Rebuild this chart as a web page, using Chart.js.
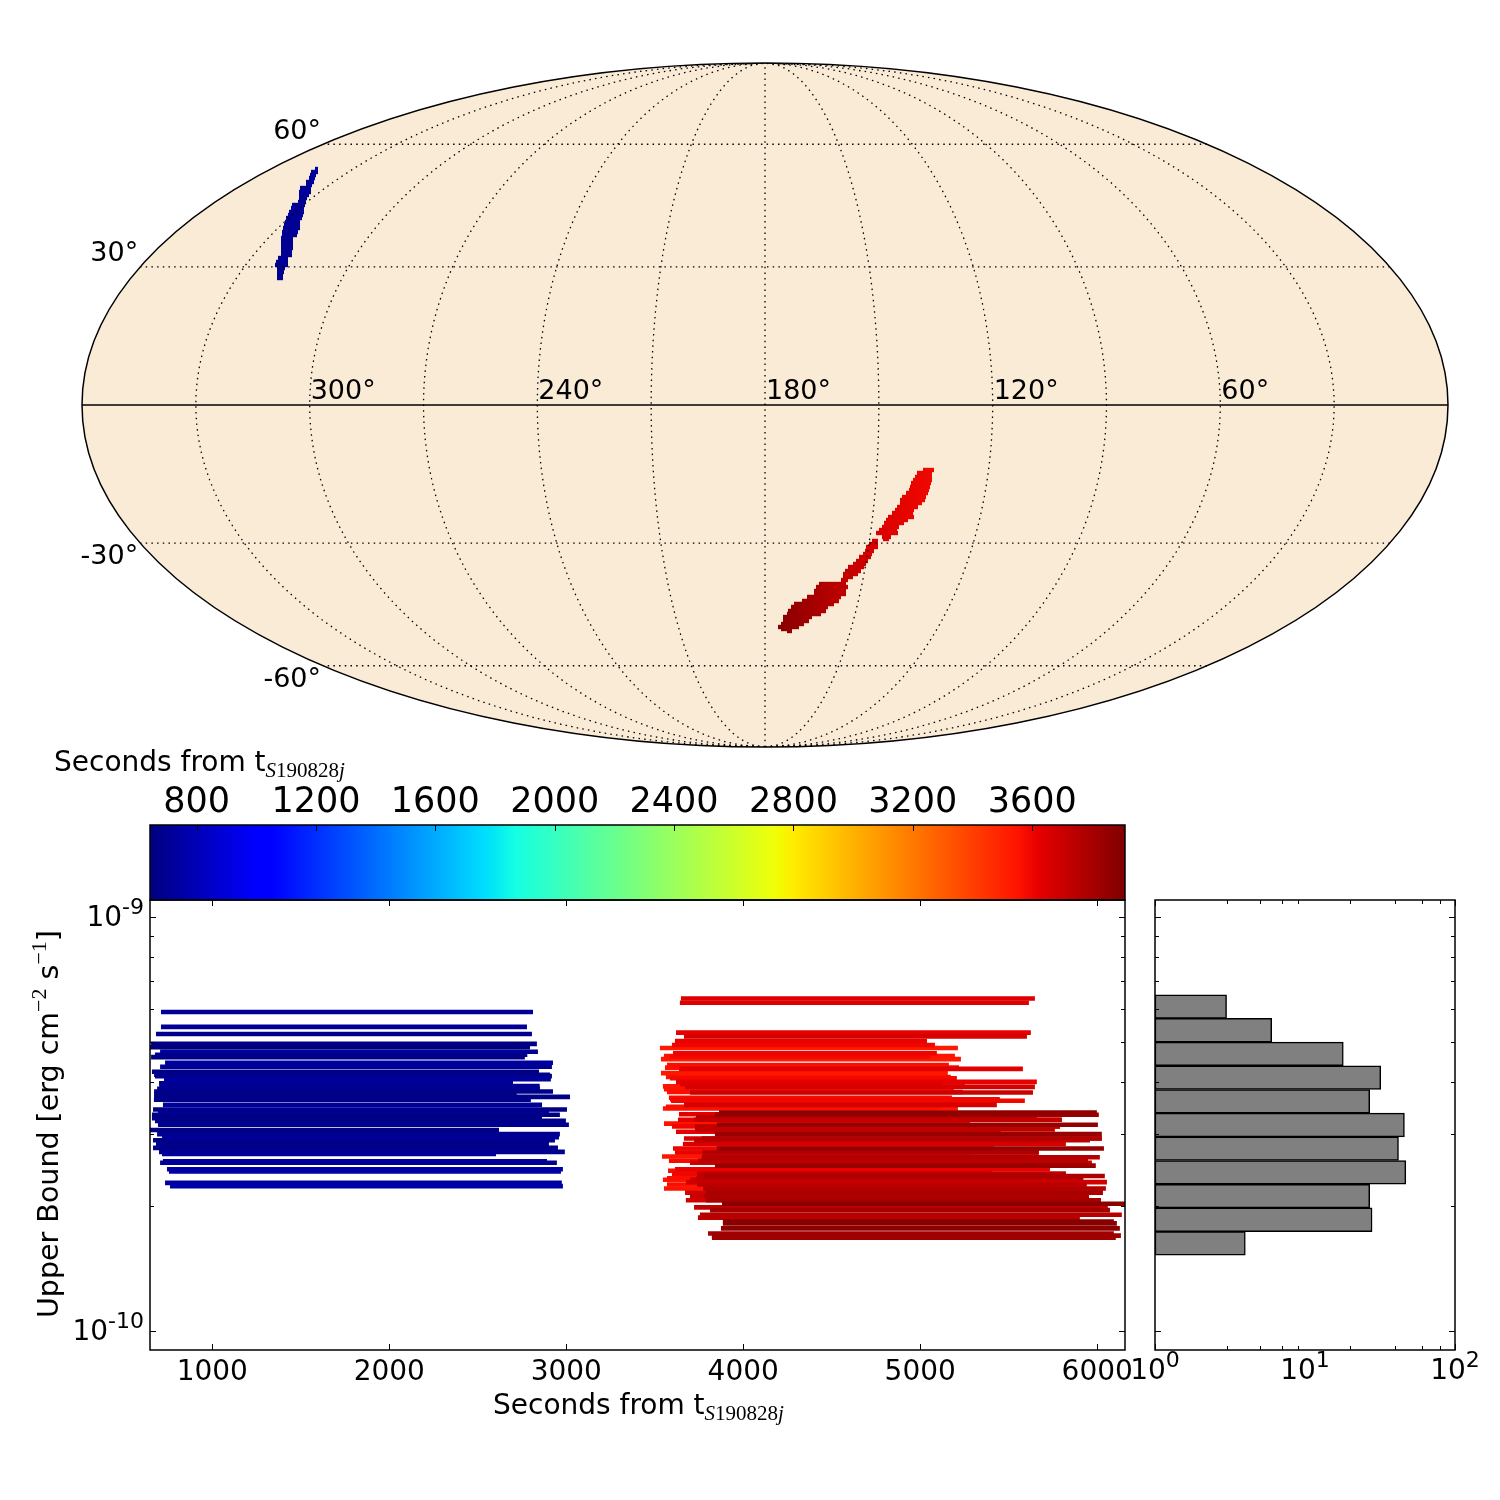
<!DOCTYPE html>
<html>
<head>
<meta charset="utf-8">
<title>S190828j upper bounds</title>
<script src="https://cdn.jsdelivr.net/npm/chart.js@4"></script>
<style>
html, body { margin: 0; padding: 0; background: #fff; }
canvas { position: absolute; left: 0; top: 0; }
</style>
</head>
<body>
<canvas id="mapChart" width="1500" height="1500"></canvas>
<canvas id="barChart" width="1500" height="1500"></canvas>
<canvas id="mainChart" width="1500" height="1500"></canvas>
<canvas id="histChart" width="1500" height="1500"></canvas>
<script>
// sky map, mollweide plane units
const lonGrid = [30, 60, 90, 120, 150, 180, 210, 240, 270, 300, 330];
const latGrid = [60, 30, -30, -60];
const lonLabels = [300, 240, 180, 120, 60];

const blueRowY = [236, 233, 230, 227, 223, 220, 217, 213, 210, 207, 203, 200, 197, 193, 190, 187, 183, 180, 177, 173, 170, 167, 163, 160, 157, 153, 150, 147, 143, 140, 137, 133, 130, 127];
const blueRowX0 = [-449, -453, -454, -455, -458, -458, -464, -465, -465, -465, -466, -472, -473, -475, -476, -478, -479, -480, -481, -482, -482, -483, -483, -483, -483, -483, -483, -486, -488, -489, -487, -487, -487, -487];
const blueRowX1 = [-448, -448, -450, -451, -452, -454, -455, -455, -457, -459, -460, -461, -462, -462, -463, -464, -466, -466, -466, -468, -469, -473, -473, -473, -473, -474, -474, -478, -478, -478, -481, -482, -483, -483];

const redRowY = [-65, -68, -72, -75, -78, -82, -85, -88, -92, -95, -98, -102, -105, -108, -112, -115, -118, -122, -125, -128, -132, -134, -136, -139, -142, -146, -149, -152, -156, -159, -162, -166, -169, -172, -175, -179, -182, -186, -189, -192, -196, -199, -202, -206, -209, -212, -216, -219, -222, -224, -226];
const redRowX0 = [159, 153, 151, 149, 147, 146, 145, 142, 138, 136, 136, 133, 131, 128, 124, 122, 120, 118, 115, 112, 118, 119, 108, 105, 102, 101, 99, 95, 92, 89, 84, 81, 79, 79, 77, 55, 52, 50, 50, 43, 38, 30, 27, 24, 23, 19, 19, 17, 14, 17, 23];
const redRowX1 = [168, 166, 166, 166, 165, 164, 163, 162, 160, 159, 156, 152, 148, 147, 148, 142, 138, 133, 131, 132, 125, 123, 112, 112, 112, 108, 106, 105, 102, 100, 98, 95, 92, 87, 82, 80, 82, 80, 80, 75, 73, 68, 62, 60, 55, 46, 43, 38, 33, 26, 26];

const blueStopX = [-489, -448];
const blueStopT = [690, 720];
const redStopX = [14, 50, 80, 112, 168];
const redStopT = [3890, 3800, 3730, 3660, 3590];

// light curve bars
const blueFlux = [5.90, 5.43, 5.22, 4.94, 4.85, 4.73, 4.65, 4.59, 4.45, 4.35, 4.23, 4.16, 4.13, 4.06, 3.97, 3.91, 3.85, 3.79, 3.73, 3.68, 3.62, 3.52, 3.43, 3.38, 3.33, 3.27, 3.22, 3.15, 3.06, 2.99, 2.94, 2.89, 2.83, 2.77, 2.71, 2.68, 2.57, 2.55, 2.46, 2.43, 2.28, 2.24];
const blueStart = [710, 710, 682, 654, 648, 705, 676, 654, 733, 705, 659, 671, 676, 727, 699, 700, 688, 671, 671, 671, 670, 721, 665, 693, 659, 659, 676, 693, 648, 688, 716, 665, 682, 665, 699, 716, 721, 705, 744, 755, 733, 761];
const blueEnd = [2812, 2778, 2806, 2834, 2795, 2840, 2780, 2766, 2925, 2919, 2846, 2908, 2919, 2913, 2699, 2850, 2851, 2925, 2720, 3021, 2800, 2863, 3004, 2902, 2964, 2863, 2998, 3015, 2620, 2964, 2959, 2936, 2902, 2953, 2992, 2603, 2891, 2947, 2981, 2970, 2975, 2981];

const redFlux = [6.36, 6.21, 5.26, 5.15, 5.02, 4.91, 4.83, 4.69, 4.62, 4.60, 4.54, 4.39, 4.33, 4.30, 4.20, 4.11, 4.08, 4.00, 3.95, 3.90, 3.89, 3.84, 3.78, 3.77, 3.66, 3.63, 3.60, 3.52, 3.48, 3.45, 3.37, 3.34, 3.33, 3.29, 3.24, 3.17, 3.15, 3.12, 3.07, 3.03, 2.99, 2.92, 2.89, 2.83, 2.76, 2.76, 2.70, 2.64, 2.63, 2.58, 2.55, 2.51, 2.46, 2.44, 2.40, 2.37, 2.34, 2.32, 2.29, 2.26, 2.21, 2.21, 2.16, 2.12, 2.07, 2.03, 1.99, 1.96, 1.91, 1.88, 1.84, 1.82, 1.77, 1.72, 1.70, 1.68, 3.24, 3.12, 2.92, 2.70, 2.58, 2.40, 2.34, 2.32, 2.26, 2.16, 2.12, 2.07];
const redStart = [3648, 3642, 3620, 3665, 3614, 3597, 3529, 3603, 3552, 3586, 3535, 3569, 3558, 3637, 3535, 3563, 3586, 3620, 3642, 3546, 3671, 3552, 3569, 3699, 3580, 3586, 3592, 3665, 3563, 3546, 3863, 3637, 3840, 3733, 3631, 3552, 3851, 3597, 3727, 3620, 3840, 3665, 3722, 3659, 3603, 3851, 3614, 3541, 3765, 3580, 3699, 3840, 3614, 3575, 3597, 3784, 3569, 3546, 3676, 3569, 3552, 3774, 3671, 3699, 3676, 3880, 3722, 3812, 3755, 3744, 3885, 3885, 3874, 3801, 3823, 3823, 3722, 3727, 3765, 3770, 3745, 3740, 3735, 3700, 3740, 3790, 3780, 3790];
const redEnd = [5648, 5614, 5625, 5603, 5038, 5083, 5213, 5094, 5196, 5055, 5230, 5162, 5219, 5580, 5156, 5173, 5207, 5659, 5123, 5252, 5648, 5190, 5241, 5637, 5179, 5450, 5591, 5433, 5107, 5213, 5998, 5659, 6009, 5659, 5800, 5281, 6004, 5789, 5761, 5456, 6026, 6026, 5959, 5823, 5416, 6038, 5670, 5281, 6015, 5947, 5970, 5992, 5733, 5405, 5823, 6043, 5921, 5563, 6055, 5940, 5789, 6049, 6032, 5953, 6021, 6162, 6060, 6072, 6139, 5902, 6094, 6111, 6128, 6094, 6134, 6105, 5800, 5789, 6026, 5670, 5947, 5823, 5921, 5563, 5940, 6032, 5953, 6021];

const xTickValues = [1000, 2000, 3000, 4000, 5000, 6000];
const fluxTicks = [1e-10, 2e-10, 3e-10, 4e-10, 5e-10, 6e-10, 7e-10, 8e-10, 9e-10, 1e-9];
const barTicks = [800, 1200, 1600, 2000, 2400, 2800, 3200, 3600];

// histogram, bins run top to bottom over the whole axis
const histBins = ['b1', 'b2', 'b3', 'b4', 'b5', 'b6', 'b7', 'b8', 'b9', 'b10', 'b11', 'b12', 'b13', 'b14', 'b15', 'b16', 'b17', 'b18', 'b19'];
const histCounts = [null, null, null, null, 3, 6, 18, 32, 27, 46, 42, 47, 27, 28, 4, null, null, null, null];
const histTicks = [1, 2, 3, 4, 5, 6, 7, 8, 9, 10, 20, 30, 40, 50, 60, 70, 80, 90, 100];

const tMin = 644;
const tMax = 3911;
const fluxUnit = 1e-10;
const sans = '"DejaVu Sans"';
const serif = '"Liberation Serif"';

Chart.defaults.animation = false;
Chart.defaults.responsive = false;
Chart.defaults.font.family = sans;
Chart.defaults.color = '#000';
Chart.defaults.plugins.legend.display = false;
Chart.defaults.plugins.tooltip.enabled = false;

function lerp(f, xs, ys) {
    for (let i = 1; i < xs.length; i++) {
        if (f <= xs[i]) return ys[i - 1] + (ys[i] - ys[i - 1]) * (f - xs[i - 1]) / (xs[i] - xs[i - 1]);
    }
    return ys[ys.length - 1];
}

function jet(f) {
    const r = lerp(f, [0, 0.35, 0.66, 0.89, 1], [0, 0, 1, 1, 0.5]);
    const g = lerp(f, [0, 0.125, 0.375, 0.64, 0.91, 1], [0, 0, 1, 1, 0, 0]);
    const b = lerp(f, [0, 0.11, 0.34, 0.65, 1], [0.5, 1, 1, 0, 0]);
    return 'rgb(' + Math.round(r * 255) + ',' + Math.round(g * 255) + ',' + Math.round(b * 255) + ')';
}

function timeColor(t) {
    return jet((t - tMin) / (tMax - tMin));
}

function setTicks(values) {
    return scale => { scale.ticks = values.map(value => ({ value })); };
}

function isDecade(v) {
    const l = Math.log10(v);
    return Math.abs(l - Math.round(l)) < 1e-6;
}

function drawSup(ctx, base, sup, x, y, size, supSize, align) {
    ctx.save();
    ctx.fillStyle = '#000';
    ctx.textBaseline = 'alphabetic';
    ctx.textAlign = 'left';
    ctx.font = size + 'px ' + sans;
    const w1 = ctx.measureText(base).width;
    ctx.font = supSize + 'px ' + sans;
    const w2 = ctx.measureText(sup).width;
    let left = x;
    if (align === 'center') left = x - (w1 + w2) / 2;
    if (align === 'right') left = x - w1 - w2;
    ctx.font = size + 'px ' + sans;
    ctx.fillText(base, left, y);
    ctx.font = supSize + 'px ' + sans;
    ctx.fillText(sup, left + w1, y - size * 0.44);
    ctx.restore();
}

// "Seconds from t" with the S190828j subscript
function drawSecondsLabel(ctx, x, y) {
    ctx.save();
    ctx.fillStyle = '#000';
    ctx.textAlign = 'left';
    ctx.textBaseline = 'alphabetic';
    ctx.font = '28px ' + sans;
    ctx.fillText('Seconds from t', x, y);
    let px = x + ctx.measureText('Seconds from t').width;
    const parts = [['S', 'italic '], ['190828', ''], ['j', 'italic ']];
    parts.forEach(p => {
        ctx.font = p[1] + '21px ' + serif;
        ctx.fillText(p[0], px, y + 6);
        px += ctx.measureText(p[0]).width;
    });
    ctx.restore();
}

function frame(ctx, area) {
    ctx.save();
    ctx.strokeStyle = '#000';
    ctx.lineWidth = 1.5;
    ctx.strokeRect(area.left, area.top, area.right - area.left, area.bottom - area.top);
    ctx.restore();
}

// ticks point into the axes, on both sides
function insideTicks(ctx, area, xScale, yScale, xSides) {
    ctx.save();
    ctx.strokeStyle = '#000';
    ctx.lineWidth = 1;
    ctx.beginPath();
    if (xScale) {
        xScale.ticks.forEach(t => {
            const px = Math.round(xScale.getPixelForValue(t.value)) + 0.5;
            const len = xScale.type === 'logarithmic' && !isDecade(t.value) ? 4 : 6;
            if (xSides.includes('bottom')) { ctx.moveTo(px, area.bottom); ctx.lineTo(px, area.bottom - len); }
            if (xSides.includes('top')) { ctx.moveTo(px, area.top); ctx.lineTo(px, area.top + len); }
        });
    }
    if (yScale) {
        yScale.ticks.forEach(t => {
            const py = Math.round(yScale.getPixelForValue(t.value)) + 0.5;
            const len = isDecade(t.value) ? 6 : 4;
            ctx.moveTo(area.left, py); ctx.lineTo(area.left + len, py);
            ctx.moveTo(area.right, py); ctx.lineTo(area.right - len, py);
        });
    }
    ctx.stroke();
    ctx.restore();
}

// ---- map
const A = 683;
const B = 342;

function project(lon, lat) {
    const phi = lat * Math.PI / 180;
    let th = phi;
    if (Math.abs(lat) >= 90) {
        th = Math.sign(lat) * Math.PI / 2;
    } else {
        for (let i = 0; i < 30; i++) {
            th -= (2 * th + Math.sin(2 * th) - Math.PI * Math.sin(phi)) / (2 + 2 * Math.cos(2 * th));
        }
    }
    return { x: A * (180 - lon) / 180 * Math.cos(th), y: B * Math.sin(th) };
}

function graticule(points, dashed) {
    return {
        data: points, showLine: true, pointRadius: 0, borderColor: '#000', borderWidth: dashed ? 1.3 : 1.6,
        borderDash: dashed ? [1.5, 4.2] : [], order: 0
    };
}

function meridian(lon) {
    const pts = [];
    for (let lat = -90; lat <= 90; lat += 2) pts.push(project(lon, lat));
    return pts;
}

function parallel(lat) {
    const pts = [];
    for (let lon = 0; lon <= 360; lon += 6) pts.push(project(lon, lat));
    return pts;
}

function regionColor(stopX, stopT) {
    return ctx => {
        const sx = ctx.chart.scales.x;
        const x0 = sx ? sx.getPixelForValue(stopX[0]) : NaN;
        const x1 = sx ? sx.getPixelForValue(stopX[stopX.length - 1]) : NaN;
        if (!isFinite(x0) || !isFinite(x1)) return timeColor(stopT[0]);
        const g = ctx.chart.ctx.createLinearGradient(x0, 0, x1, 0);
        stopX.forEach((x, i) => {
            g.addColorStop((x - stopX[0]) / (stopX[stopX.length - 1] - stopX[0]), timeColor(stopT[i]));
        });
        return g;
    };
}

function rowDatasets(ys, x0s, x1s, color) {
    return ys.map((y, i) => ({
        data: [{ x: x0s[i] - 1, y }, { x: x1s[i] + 1, y }], showLine: true, pointRadius: 0,
        borderColor: color, borderWidth: 4.4, borderCapStyle: 'butt', order: 1
    }));
}

const mapDatasets = [];
lonGrid.forEach(lon => mapDatasets.push(graticule(meridian(lon), true)));
latGrid.forEach(lat => mapDatasets.push(graticule(parallel(lat), true)));
mapDatasets.push(graticule(parallel(0), false));
rowDatasets(blueRowY, blueRowX0, blueRowX1, regionColor(blueStopX, blueStopT)).forEach(d => mapDatasets.push(d));
rowDatasets(redRowY, redRowX0, redRowX1, regionColor(redStopX, redStopT)).forEach(d => mapDatasets.push(d));

new Chart(document.getElementById('mapChart'), {
    type: 'scatter',
    data: { datasets: mapDatasets },
    options: {
        layout: { padding: { left: 82, right: 52, top: 63, bottom: 753 } },
        scales: {
            x: { type: 'linear', min: -A, max: A, display: false },
            y: { type: 'linear', min: -B, max: B, display: false }
        }
    },
    plugins: [{
        id: 'mapShape',
        beforeDatasetsDraw(chart) {
            const { ctx, scales: { x, y } } = chart;
            ctx.save();
            ctx.beginPath();
            ctx.ellipse(x.getPixelForValue(0), y.getPixelForValue(0), x.getPixelForValue(A) - x.getPixelForValue(0), y.getPixelForValue(0) - y.getPixelForValue(B), 0, 0, Math.PI * 2);
            ctx.fillStyle = '#faebd7';
            ctx.fill();
            ctx.restore();
        },
        afterDatasetsDraw(chart) {
            const { ctx, scales: { x, y } } = chart;
            ctx.save();
            ctx.beginPath();
            ctx.ellipse(x.getPixelForValue(0), y.getPixelForValue(0), x.getPixelForValue(A) - x.getPixelForValue(0), y.getPixelForValue(0) - y.getPixelForValue(B), 0, 0, Math.PI * 2);
            ctx.strokeStyle = '#000';
            ctx.lineWidth = 1.5;
            ctx.stroke();
            ctx.fillStyle = '#000';
            ctx.font = '27px ' + sans;
            ctx.textBaseline = 'alphabetic';
            ctx.textAlign = 'left';
            lonLabels.forEach(lon => {
                const p = project(lon, 0);
                ctx.fillText(lon + '°', x.getPixelForValue(p.x) + 1, y.getPixelForValue(p.y) - 6);
            });
            ctx.textAlign = 'right';
            latGrid.forEach(lat => {
                const p = project(360, lat);
                ctx.fillText(lat + '°', x.getPixelForValue(p.x) - 2, y.getPixelForValue(p.y) + (lat > 0 ? -5.5 : 21));
            });
            ctx.restore();
        }
    }]
});

// ---- colour bar
new Chart(document.getElementById('barChart'), {
    type: 'bar',
    data: {
        labels: [''],
        datasets: [{
            data: [[tMin, tMax]], barPercentage: 1, categoryPercentage: 1,
            backgroundColor: ctx => {
                const sx = ctx.chart.scales.x;
                if (!sx || !isFinite(sx.left) || !isFinite(sx.right)) return '#000';
                const g = ctx.chart.ctx.createLinearGradient(sx.left, 0, sx.right, 0);
                [0, 0.11, 0.125, 0.34, 0.35, 0.375, 0.64, 0.65, 0.66, 0.89, 0.91, 1].forEach(f => g.addColorStop(f, jet(f)));
                return g;
            }
        }]
    },
    options: {
        indexAxis: 'y',
        layout: { padding: { left: 150, right: 375, top: 775, bottom: 600 } },
        scales: {
            x: {
                type: 'linear', position: 'top', min: tMin, max: tMax,
                afterBuildTicks: setTicks(barTicks),
                afterFit: s => { s.height = 50; },
                grid: { display: false, drawTicks: false }, border: { display: false },
                ticks: { autoSkip: false, maxRotation: 0, padding: 1, font: { size: 35 }, callback: v => String(v) }
            },
            y: { display: false }
        }
    },
    plugins: [{
        id: 'barFrame',
        afterDraw(chart) {
            const { ctx, chartArea, scales: { x } } = chart;
            frame(ctx, chartArea);
            insideTicks(ctx, chartArea, x, null, ['top']);
            drawSecondsLabel(ctx, 54, 771);
        }
    }]
});

// ---- main panel, later starts sit on top
function barDatasets(flux, start, end) {
    return flux.map((f, i) => ({
        data: [{ x: start[i], y: f * fluxUnit }, { x: end[i], y: f * fluxUnit }],
        showLine: true, pointRadius: 0, borderWidth: 4.6, borderCapStyle: 'butt',
        borderColor: timeColor(start[i]), order: -start[i]
    }));
}

new Chart(document.getElementById('mainChart'), {
    type: 'scatter',
    data: { datasets: barDatasets(blueFlux, blueStart, blueEnd).concat(barDatasets(redFlux, redStart, redEnd)) },
    options: {
        layout: { padding: { left: 150, right: 375, top: 900, bottom: 110 } },
        scales: {
            x: {
                type: 'linear', min: 648, max: 6157,
                afterBuildTicks: setTicks(xTickValues),
                afterFit: s => { s.height = 40; },
                grid: { display: false, drawTicks: false }, border: { display: false },
                ticks: { autoSkip: false, maxRotation: 0, padding: 6, font: { size: 28 }, callback: v => String(v) }
            },
            y: {
                type: 'logarithmic', min: 9e-11, max: 1.1e-9, display: false,
                afterBuildTicks: setTicks(fluxTicks)
            }
        }
    },
    plugins: [{
        id: 'mainFrame',
        afterDraw(chart) {
            const { ctx, chartArea, scales: { x, y } } = chart;
            frame(ctx, chartArea);
            insideTicks(ctx, chartArea, x, y, ['top', 'bottom']);
            drawSup(ctx, '10', '-9', 144, y.getPixelForValue(1e-9) + 9, 28, 22, 'right');
            drawSup(ctx, '10', '-10', 144, y.getPixelForValue(1e-10) + 9, 28, 22, 'right');
            drawSecondsLabel(ctx, 493, 1414);
            // y title
            ctx.save();
            ctx.translate(58, 1318);
            ctx.rotate(-Math.PI / 2);
            ctx.fillStyle = '#000';
            ctx.textAlign = 'left';
            ctx.textBaseline = 'alphabetic';
            let px = 0;
            [['Upper Bound [erg cm', 0], ['−2', 1], [' s', 0], ['−1', 1], [']', 0]].forEach(p => {
                ctx.font = p[1] ? '22px ' + serif : '28.5px ' + sans;
                ctx.fillText(p[0], px, p[1] ? -12 : 0);
                px += ctx.measureText(p[0]).width;
            });
            ctx.restore();
        }
    }]
});

// ---- histogram
new Chart(document.getElementById('histChart'), {
    type: 'bar',
    data: {
        labels: histBins,
        datasets: [{
            data: histCounts, backgroundColor: '#808080', borderColor: '#000', borderWidth: 1.5,
            borderSkipped: false, barPercentage: 1, categoryPercentage: 1
        }]
    },
    options: {
        indexAxis: 'y',
        layout: { padding: { left: 1155, right: 45, top: 900, bottom: 150 } },
        scales: {
            x: {
                type: 'logarithmic', min: 1, max: 100, display: false,
                afterBuildTicks: setTicks(histTicks)
            },
            y: { type: 'category', display: false },
            yLog: {
                axis: 'y', type: 'logarithmic', min: 9e-11, max: 1.1e-9, display: false,
                afterBuildTicks: setTicks(fluxTicks)
            }
        }
    },
    plugins: [{
        id: 'histFrame',
        afterDraw(chart) {
            const { ctx, chartArea, scales: { x, yLog } } = chart;
            frame(ctx, chartArea);
            insideTicks(ctx, chartArea, x, yLog, ['top', 'bottom']);
            [[1, '0'], [10, '1'], [100, '2']].forEach(d => {
                drawSup(ctx, '10', d[1], x.getPixelForValue(d[0]), 1379, 28, 22, 'center');
            });
        }
    }]
});
</script>
</body>
</html>
